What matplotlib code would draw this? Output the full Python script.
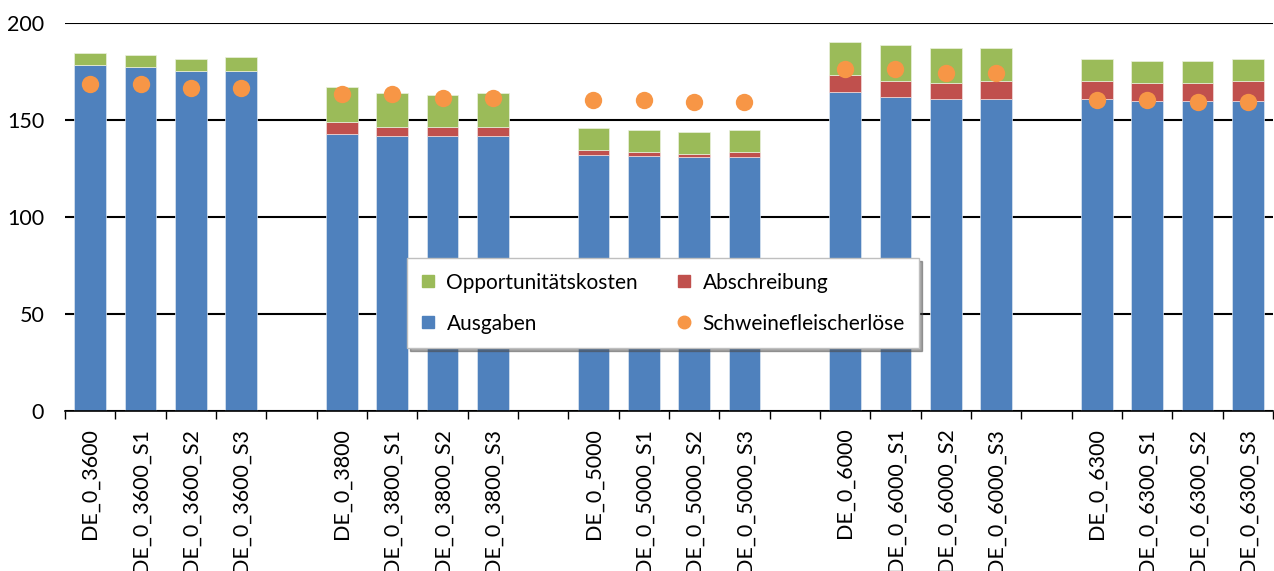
import numpy as np
import matplotlib
matplotlib.use("Agg")
import matplotlib.pyplot as plt
from matplotlib.lines import Line2D

plt.rcParams['font.family'] = ['Lato', 'DejaVu Sans']

# groups of farms, 4 scenarios each
groups = ['DE_0_3600', 'DE_0_3800', 'DE_0_5000', 'DE_0_6000', 'DE_0_6300']
scenarios = ['', '_S1', '_S2', '_S3']

ausgaben = [178.4, 177.3, 175.4, 175.4,
            142.6, 141.8, 141.8, 141.8,
            131.8, 131.6, 130.8, 130.8,
            164.3, 162.0, 161.0, 161.0,
            161.0, 160.0, 160.0, 160.0]
abschreibung = [0.0, 0.0, 0.0, 0.0,
                6.2, 4.8, 4.8, 4.8,
                2.7, 2.1, 1.8, 2.9,
                8.9, 8.1, 8.1, 9.1,
                9.1, 9.1, 9.1, 10.1]
opportunitaet = [6.0, 6.0, 6.0, 6.9,
                 18.4, 17.5, 16.5, 17.5,
                 11.2, 11.0, 11.0, 11.0,
                 17.2, 18.4, 18.2, 17.2,
                 11.2, 11.1, 11.1, 11.2]
erloese = [168.4, 168.4, 166.5, 166.5,
           163.4, 163.4, 161.2, 161.2,
           160.3, 160.3, 159.1, 159.1,
           176.5, 176.5, 174.4, 174.4,
           160.1, 160.1, 159.1, 159.1]

labels = [g + s for g in groups for s in scenarios]
# one empty slot between groups
pos = np.array([gi * 5 + j for gi in range(len(groups)) for j in range(4)])

c_blue = '#4F81BD'
c_red = '#C0504D'
c_green = '#9BBB59'
c_orange = '#F79646'

fig = plt.figure(figsize=(12.74, 5.71), dpi=100)
ax = fig.add_axes([65/1274, 160/571, 1208/1274, 388/571])

a = np.array(ausgaben)
b = np.array(abschreibung)
o = np.array(opportunitaet)
w = 0.63
ax.bar(pos, a, w, color=c_blue, edgecolor='#dce6f2', linewidth=0.5, zorder=3)
ax.bar(pos, b, w, bottom=a, color=c_red, edgecolor='#f2dcdb', linewidth=0.5, zorder=3)
ax.bar(pos, o, w, bottom=a + b, color=c_green, edgecolor='#ebf1de', linewidth=0.5, zorder=3)
ax.plot(pos, erloese, 'o', color=c_orange, markersize=12.5, markeredgewidth=0, zorder=4)

ax.set_xlim(-0.5, 23.5)
ax.set_ylim(0, 200)
ax.set_yticks([0, 50, 100, 150, 200])
ax.yaxis.grid(True, color='black', linewidth=1.5, zorder=1)
ax.set_axisbelow(True)
ax.tick_params(axis='y', length=0, pad=15, labelsize=15.5)

ax.set_xticks(pos)
ax.set_xticklabels(labels, rotation=90, fontsize=15.5)
ax.set_xticks(np.arange(-0.5, 24, 1), minor=True)
ax.tick_params(axis='x', which='major', length=0, pad=12)
ax.tick_params(axis='x', which='minor', length=6, width=1, direction='out')

for s in ['left', 'right', 'top']:
    ax.spines[s].set_visible(False)
ax.spines['bottom'].set_linewidth(1.2)
ax.spines['bottom'].set_zorder(5)

handles = [
    Line2D([], [], marker='s', color=c_green, linestyle='', markersize=8),
    Line2D([], [], marker='s', color=c_blue, linestyle='', markersize=8),
    Line2D([], [], marker='s', color=c_red, linestyle='', markersize=8),
    Line2D([], [], marker='o', color=c_orange, linestyle='', markersize=9),
]
names = ['Opportunitätskosten', 'Ausgaben', 'Abschreibung', 'Schweinefleischerlöse']
leg = ax.legend(handles, names, ncol=2, loc='lower left',
                bbox_to_anchor=(0.283, 0.162), borderaxespad=0,
                fontsize=15, frameon=True, fancybox=False, shadow=True,
                handlelength=0.6, handletextpad=0.6, columnspacing=1.9,
                labelspacing=1.0, borderpad=0.7)
leg.get_frame().set_edgecolor('#bfbfbf')
leg.get_frame().set_linewidth(1.0)
leg.set_zorder(6)

fig.savefig('out.png', dpi=100)
